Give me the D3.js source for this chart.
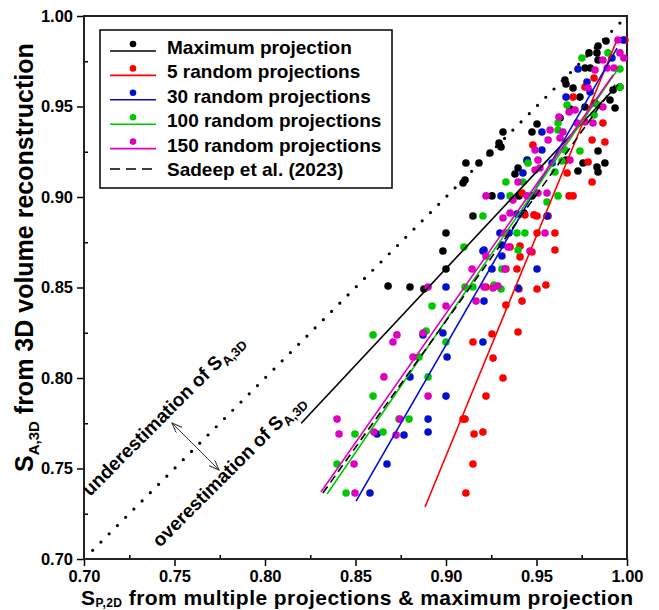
<!DOCTYPE html>
<html>
<head>
<meta charset="utf-8">
<script src="https://cdnjs.cloudflare.com/ajax/libs/d3/7.8.5/d3.min.js"></script>
<style>
  body { margin: 0; background: #fff; }
  svg { font-family: "Liberation Sans", Arial, sans-serif; }
</style>
</head>
<body>
<div id="chart"></div>
<script>
// Ticks
var majorTicks = [0.70, 0.75, 0.80, 0.85, 0.90, 0.95, 1.00];
var minorTicks = [0.725, 0.775, 0.825, 0.875, 0.925, 0.975];

// Scatter data [S_P,2D, S_A,3D]
var maxProj = [
  [0.9884, 0.9862], [0.9840, 0.9834], [0.9790, 0.9796], [0.9834, 0.9796], [0.9840, 0.9757],
  [0.9768, 0.9713], [0.9796, 0.9713], [0.9657, 0.9646], [0.9663, 0.9624], [0.9702, 0.9602],
  [0.9923, 0.9591], [0.9740, 0.9552], [0.9768, 0.9497], [0.9823, 0.9519], [0.9934, 0.9492],
  [0.9685, 0.9486], [0.9630, 0.9436], [0.9503, 0.9403], [0.9315, 0.9359], [0.9475, 0.9359],
  [0.9293, 0.9298], [0.9304, 0.9276], [0.9243, 0.9243], [0.9840, 0.9254], [0.9448, 0.9204],
  [0.9663, 0.9204], [0.9757, 0.9188], [0.9878, 0.9188], [0.9398, 0.9160], [0.9381, 0.9127],
  [0.9729, 0.9144], [0.9840, 0.9138], [0.9110, 0.9188], [0.9182, 0.9188], [0.9105, 0.9094],
  [0.9094, 0.9077], [0.9254, 0.9006], [0.9403, 0.9006], [0.9475, 0.9006], [0.9149, 0.8895],
  [0.9431, 0.8912], [0.9000, 0.8801], [0.8983, 0.8702], [0.9000, 0.8602], [0.8680, 0.8508],
  [0.8801, 0.8503], [0.8878, 0.8492], [0.9961, 0.9608], [0.9906, 0.9536], [0.9834, 0.9166]
];
var rand5 = [
  [0.9989, 0.9867], [0.9818, 0.9657], [0.9867, 0.9409], [0.9702, 0.9552], [0.9768, 0.9608],
  [0.9480, 0.9287], [0.9807, 0.9315], [0.9878, 0.9304], [0.9669, 0.9133], [0.9807, 0.9083],
  [0.9420, 0.9022], [0.9680, 0.9006], [0.9702, 0.9006], [0.9436, 0.8901], [0.9486, 0.8901],
  [0.9503, 0.8895], [0.9564, 0.8895], [0.9503, 0.8801], [0.9602, 0.8801], [0.9354, 0.8724],
  [0.9409, 0.8729], [0.9475, 0.8696], [0.9602, 0.8707], [0.9331, 0.8602], [0.9392, 0.8602],
  [0.9409, 0.8669], [0.9221, 0.8503], [0.9403, 0.8492], [0.9503, 0.8492], [0.9552, 0.8514],
  [0.9420, 0.8425], [0.9331, 0.8403], [0.9398, 0.8254], [0.9254, 0.8243], [0.9149, 0.8199],
  [0.9260, 0.8110], [0.9315, 0.8000], [0.9221, 0.7900], [0.9094, 0.7773], [0.9105, 0.7773],
  [0.9155, 0.7691], [0.9204, 0.7702], [0.9149, 0.7525], [0.9110, 0.7365], [0.9785, 0.9193]
];
var rand30 = [
  [0.9978, 0.9867], [0.9917, 0.9768], [0.9729, 0.9707], [0.9779, 0.9635], [0.9796, 0.9580],
  [0.9663, 0.9552], [0.9530, 0.9359], [0.9530, 0.9260], [0.9448, 0.9199], [0.9586, 0.9188],
  [0.9425, 0.9133], [0.9304, 0.9006], [0.9392, 0.8906], [0.9558, 0.8895], [0.9348, 0.8801],
  [0.9298, 0.8801], [0.9210, 0.8707], [0.9309, 0.8735], [0.9204, 0.8702], [0.9309, 0.8674],
  [0.9254, 0.8602], [0.9503, 0.8602], [0.9000, 0.8503], [0.9398, 0.8497], [0.9210, 0.8425],
  [0.8873, 0.8238], [0.8983, 0.8249], [0.9204, 0.8199], [0.9006, 0.8116], [0.8801, 0.8006],
  [0.9000, 0.7900], [0.8901, 0.7773], [0.8619, 0.7691], [0.8768, 0.7685], [0.8901, 0.7702],
  [0.8674, 0.7525], [0.8580, 0.7365]
];
var rand100 = [
  [0.9895, 0.9796], [0.9751, 0.9768], [0.9961, 0.9707], [0.9961, 0.9608], [0.9669, 0.9508],
  [0.9840, 0.9508], [0.9818, 0.9453], [0.9619, 0.9409], [0.9619, 0.9370], [0.9657, 0.9260],
  [0.9740, 0.9254], [0.9453, 0.9188], [0.9641, 0.9199], [0.9602, 0.9138], [0.9331, 0.9083],
  [0.9425, 0.9083], [0.9354, 0.9006], [0.9619, 0.9006], [0.9204, 0.8895], [0.9392, 0.8801],
  [0.9436, 0.8801], [0.9099, 0.8724], [0.9398, 0.8707], [0.9309, 0.8602], [0.9558, 0.8972],
  [0.9105, 0.8503], [0.9149, 0.8503], [0.9265, 0.8514], [0.9304, 0.8492], [0.8923, 0.8398],
  [0.8597, 0.8238], [0.8890, 0.8260], [0.9000, 0.8199], [0.8851, 0.8116], [0.8901, 0.8006],
  [0.8597, 0.7900], [0.8740, 0.7773], [0.8796, 0.7773], [0.8497, 0.7691], [0.8652, 0.7702],
  [0.8398, 0.7525], [0.8448, 0.7365]
];
var rand150 = [
  [0.9950, 0.9867], [0.9961, 0.9796], [0.9983, 0.9768], [0.9867, 0.9757], [0.9823, 0.9702],
  [0.9890, 0.9713], [0.9928, 0.9713], [0.9785, 0.9602], [0.9867, 0.9497], [0.9680, 0.9470],
  [0.9713, 0.9481], [0.9624, 0.9442], [0.9724, 0.9409], [0.9768, 0.9414], [0.9812, 0.9409],
  [0.9575, 0.9370], [0.9646, 0.9359], [0.9564, 0.9315], [0.9630, 0.9326], [0.9492, 0.9260],
  [0.9508, 0.9204], [0.9685, 0.9204], [0.9519, 0.9160], [0.9492, 0.9149], [0.9398, 0.9083],
  [0.9221, 0.9006], [0.9370, 0.8983], [0.9448, 0.9006], [0.9508, 0.9022], [0.9558, 0.9022],
  [0.9315, 0.8884], [0.9354, 0.8912], [0.9326, 0.8801], [0.9547, 0.8801], [0.9221, 0.8674],
  [0.9343, 0.8724], [0.9464, 0.8702], [0.9144, 0.8602], [0.9326, 0.8602], [0.8901, 0.8503],
  [0.9210, 0.8503], [0.9260, 0.8497], [0.9287, 0.8508], [0.9000, 0.8398], [0.9166, 0.8425],
  [0.8729, 0.8238], [0.8707, 0.8199], [0.8873, 0.8249], [0.8818, 0.8116], [0.8657, 0.8006],
  [0.8901, 0.7900], [0.8398, 0.7773], [0.8746, 0.7773], [0.8409, 0.7691], [0.8602, 0.7702],
  [0.8724, 0.7685], [0.8492, 0.7525], [0.8497, 0.7365]
];

// Fitted lines (end points)
var maxProjFit = [[0.820, 0.775], [0.995, 0.962]];
var rand5Fit = [[0.8884, 0.7287], [0.994, 0.9856]];
var rand30Fit = [[0.8503, 0.732], [0.9945, 0.9823]];
var rand100Fit = [[0.8343, 0.7359], [0.9945, 0.970]];
var rand150Fit = [[0.8309, 0.737], [0.9923, 0.9674]];
var sadeepFit = [[0.832, 0.7365], [0.9945, 0.9635]];

// 1:1 reference line and annotation
var oneToOne = [[0.7048, 0.7048], [0.9978, 0.9978]];
var arrowEnds = [[0.7486, 0.7751], [0.7746, 0.7492]];

var legendLabels = ["Maximum projection", "5 random projections", "30 random projections",
  "100 random projections", "150 random projections", "Sadeep et al. (2023)"];
var seriesColors = ["#000000", "#ff0000", "#0010d0", "#00c800", "#e000c0"];

// svg wrapper
var svgWidth = 659;
var svgHeight = 610;
var margin = { top: 16, right: 32, bottom: 51, left: 84 };
var width = svgWidth - margin.left - margin.right;
var height = svgHeight - margin.top - margin.bottom;

var svg = d3.select("#chart")
  .append("svg")
  .attr("width", svgWidth)
  .attr("height", svgHeight);

var chartGroup = svg.append("g")
  .attr("transform", `translate(${margin.left}, ${margin.top})`);

var xScale = d3.scaleLinear().domain([0.70, 1.00]).range([0, width]);
var yScale = d3.scaleLinear().domain([0.70, 1.00]).range([height, 0]);

// minor ticks (inward)
chartGroup.append("g")
  .attr("transform", `translate(0, ${height})`)
  .call(d3.axisBottom(xScale).tickValues(minorTicks).tickSize(-4).tickFormat(""))
  .call(g => g.select(".domain").remove());
chartGroup.append("g")
  .call(d3.axisLeft(yScale).tickValues(minorTicks).tickSize(-4).tickFormat(""))
  .call(g => g.select(".domain").remove());

// major ticks (outward)
var bottomAxis = d3.axisBottom(xScale).tickValues(majorTicks).tickSize(7).tickPadding(4).tickFormat(d3.format(".2f"));
var leftAxis = d3.axisLeft(yScale).tickValues(majorTicks).tickSize(7).tickPadding(4).tickFormat(d3.format(".2f"));

chartGroup.append("g")
  .attr("transform", `translate(0, ${height})`)
  .call(bottomAxis)
  .call(g => g.select(".domain").remove());
chartGroup.append("g")
  .call(leftAxis)
  .call(g => g.select(".domain").remove());

chartGroup.selectAll(".tick line").attr("stroke", "#000").attr("stroke-width", 1.5);
chartGroup.selectAll(".tick text")
  .attr("font-family", "Liberation Sans, Arial, sans-serif")
  .attr("font-size", 16.5)
  .attr("font-weight", "bold")
  .attr("fill", "#000");

// frame
chartGroup.append("rect")
  .attr("width", width)
  .attr("height", height)
  .attr("fill", "none")
  .attr("stroke", "#222")
  .attr("stroke-width", 2);

var line = d3.line().x(d => xScale(d[0])).y(d => yScale(d[1]));

// dotted 1:1 line
chartGroup.append("path")
  .attr("d", line(oneToOne))
  .attr("stroke", "#000")
  .attr("stroke-width", 3.2)
  .attr("stroke-linecap", "round")
  .attr("stroke-dasharray", "0 11.65")
  .attr("fill", "none");

// scatter points
var allSeries = [maxProj, rand5, rand30, rand100, rand150];
allSeries.forEach(function(data, i) {
  chartGroup.append("g")
    .selectAll("circle")
    .data(data)
    .enter()
    .append("circle")
    .attr("cx", d => xScale(d[0]))
    .attr("cy", d => yScale(d[1]))
    .attr("r", 3.8)
    .attr("fill", seriesColors[i]);
});

// fitted lines
var fits = [maxProjFit, rand5Fit, rand30Fit, rand100Fit, rand150Fit];
fits.forEach(function(f, i) {
  chartGroup.append("path")
    .attr("d", line(f))
    .attr("stroke", seriesColors[i])
    .attr("stroke-width", 1.6)
    .attr("fill", "none");
});
chartGroup.append("path")
  .attr("d", line(sadeepFit))
  .attr("stroke", "#000")
  .attr("stroke-width", 1.6)
  .attr("stroke-dasharray", "8 5")
  .attr("fill", "none");

// annotation arrow
svg.append("defs").append("marker")
  .attr("id", "arr")
  .attr("markerUnits", "userSpaceOnUse")
  .attr("markerWidth", 12)
  .attr("markerHeight", 10)
  .attr("refX", 10)
  .attr("refY", 4)
  .attr("orient", "auto-start-reverse")
  .append("path")
  .attr("d", "M0,0 L10,4 L0,8")
  .attr("fill", "none")
  .attr("stroke", "#333")
  .attr("stroke-width", 1);

chartGroup.append("path")
  .attr("d", line(arrowEnds))
  .attr("stroke", "#333")
  .attr("stroke-width", 1)
  .attr("fill", "none")
  .attr("marker-start", "url(#arr)")
  .attr("marker-end", "url(#arr)");

// rotated annotation texts
function annot(x, y, word) {
  var t = chartGroup.append("text")
    .attr("transform", `translate(${xScale(x)}, ${yScale(y)}) rotate(-45)`)
    .attr("font-size", 19)
    .attr("font-weight", "bold");
  t.append("tspan").text(word + " of S");
  t.append("tspan").attr("font-size", 13).attr("dy", 5).text("A,3D");
}
annot(0.7033, 0.7343, "underestimation");
annot(0.7420, 0.7061, "overestimation");

// axis titles
var xTitle = svg.append("text")
  .attr("x", 81)
  .attr("y", 605)
  .attr("font-size", 21)
  .attr("letter-spacing", 0.45)
  .attr("font-weight", "bold");
xTitle.append("tspan").text("S");
xTitle.append("tspan").attr("font-size", 12).attr("dy", 2).text("P,2D");
xTitle.append("tspan").attr("dy", -2).text(" from multiple projections & maximum projection");

var yTitle = svg.append("text")
  .attr("transform", "translate(33, 472) rotate(-90)")
  .attr("font-size", 25)
  .attr("font-weight", "bold");
yTitle.append("tspan").text("S");
yTitle.append("tspan").attr("font-size", 15).attr("dy", 6).text("A,3D");
yTitle.append("tspan").attr("dy", -6).text(" from 3D volume reconstruction");

// legend
var legend = svg.append("g");
legend.append("rect")
  .attr("x", 100)
  .attr("y", 30)
  .attr("width", 292)
  .attr("height", 158)
  .attr("fill", "#fff")
  .attr("stroke", "#000")
  .attr("stroke-width", 1.5);

legendLabels.forEach(function(label, i) {
  var yc = 47 + 24.4 * i;
  if (i < 5) {
    legend.append("line")
      .attr("x1", 110).attr("x2", 156)
      .attr("y1", yc + 4).attr("y2", yc + 4)
      .attr("stroke", seriesColors[i])
      .attr("stroke-width", 1.6);
    legend.append("circle")
      .attr("cx", 133).attr("cy", yc - 3)
      .attr("r", 3.3)
      .attr("fill", seriesColors[i]);
  } else {
    legend.append("line")
      .attr("x1", 110).attr("x2", 156)
      .attr("y1", yc).attr("y2", yc)
      .attr("stroke", "#000")
      .attr("stroke-width", 1.6)
      .attr("stroke-dasharray", "10 6");
  }
  legend.append("text")
    .attr("x", 167)
    .attr("y", yc + 7)
    .attr("font-size", 19)
    .attr("font-weight", "bold")
    .text(label);
});
</script>
</body>
</html>
